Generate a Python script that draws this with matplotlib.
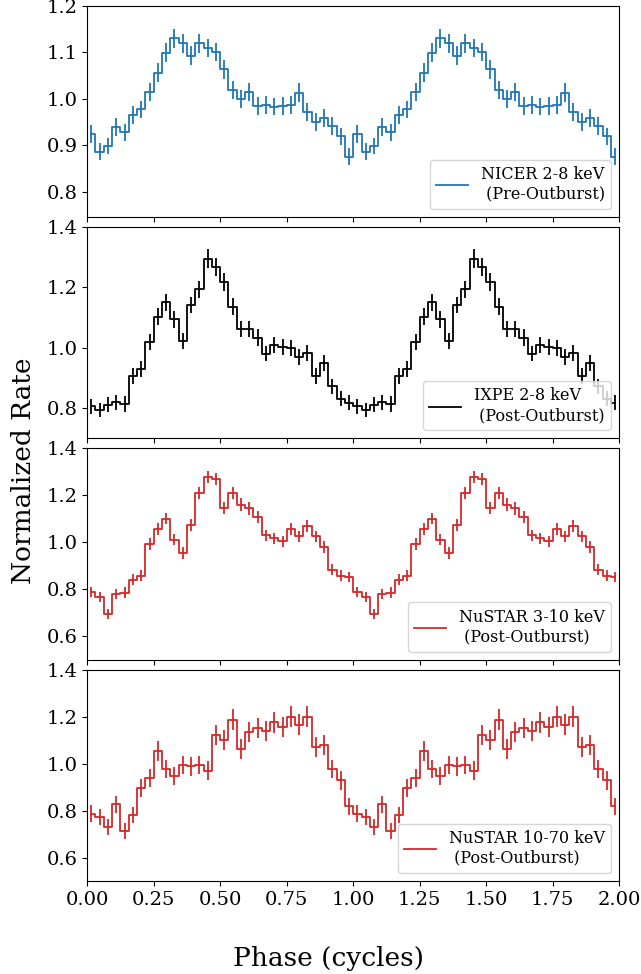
import numpy as np
import matplotlib
matplotlib.use("Agg")
import matplotlib.pyplot as plt

plt.rcParams['font.family'] = 'DejaVu Serif'

# 32 phase bins per cycle, shown twice
n_bins = 32

nicer_rate = [0.924, 0.886, 0.898, 0.939, 0.928, 0.965, 0.977, 1.015,
              1.056, 1.099, 1.130, 1.119, 1.093, 1.119, 1.109, 1.101,
              1.063, 1.019, 1.000, 1.014, 0.984, 0.986, 0.983, 0.984,
              0.986, 1.013, 0.972, 0.950, 0.958, 0.941, 0.919, 0.875]
nicer_err = [0.019, 0.018, 0.018, 0.019, 0.018, 0.019, 0.019, 0.019,
             0.020, 0.020, 0.021, 0.020, 0.020, 0.021, 0.020, 0.020,
             0.020, 0.019, 0.019, 0.019, 0.019, 0.019, 0.019, 0.019,
             0.019, 0.020, 0.019, 0.019, 0.019, 0.019, 0.019, 0.018]

ixpe_rate = [0.807, 0.794, 0.811, 0.820, 0.814, 0.907, 0.929, 1.020,
             1.103, 1.151, 1.094, 1.022, 1.142, 1.194, 1.296, 1.268,
             1.218, 1.137, 1.063, 1.063, 1.034, 0.981, 1.009, 1.003,
             1.000, 0.970, 0.983, 0.907, 0.951, 0.873, 0.831, 0.818]
ixpe_err = [0.025, 0.024, 0.025, 0.025, 0.025, 0.026, 0.026, 0.027,
            0.028, 0.028, 0.028, 0.027, 0.028, 0.029, 0.030, 0.029,
            0.029, 0.028, 0.027, 0.027, 0.027, 0.026, 0.026, 0.026,
            0.026, 0.026, 0.026, 0.026, 0.026, 0.025, 0.025, 0.025]

nustar_lo_rate = [0.788, 0.767, 0.694, 0.781, 0.786, 0.841, 0.858, 0.993,
                  1.058, 1.101, 1.011, 0.954, 1.075, 1.211, 1.278, 1.270,
                  1.147, 1.211, 1.161, 1.144, 1.108, 1.030, 1.017, 1.004,
                  1.058, 1.026, 1.070, 1.026, 0.980, 0.883, 0.858, 0.852]
nustar_lo_err = [0.022, 0.022, 0.021, 0.022, 0.022, 0.023, 0.023, 0.024,
                 0.025, 0.025, 0.024, 0.024, 0.025, 0.026, 0.027, 0.027,
                 0.026, 0.026, 0.026, 0.026, 0.025, 0.024, 0.024, 0.024,
                 0.025, 0.024, 0.025, 0.024, 0.024, 0.023, 0.023, 0.023]

nustar_hi_rate = [0.787, 0.772, 0.729, 0.826, 0.712, 0.780, 0.896, 0.939,
                  1.054, 0.977, 0.946, 0.994, 0.989, 0.994, 0.970, 1.123,
                  1.099, 1.186, 1.062, 1.135, 1.152, 1.138, 1.176, 1.156,
                  1.199, 1.166, 1.199, 1.071, 1.078, 0.977, 0.928, 0.818]
nustar_hi_err = [0.036, 0.035, 0.034, 0.037, 0.034, 0.035, 0.038, 0.039,
                 0.042, 0.040, 0.039, 0.040, 0.040, 0.040, 0.039, 0.043,
                 0.042, 0.045, 0.042, 0.043, 0.044, 0.043, 0.044, 0.044,
                 0.045, 0.044, 0.045, 0.042, 0.042, 0.040, 0.039, 0.036]

labels = ["NICER 2-8 keV\n (Pre-Outburst)",
          "IXPE 2-8 keV\n (Post-Outburst)",
          "NuSTAR 3-10 keV\n (Post-Outburst)",
          "NuSTAR 10-70 keV\n (Post-Outburst)"]
colors = ["#1f77b4", "black", "#d62728", "#d62728"]
ylims = [(0.745, 1.2), (0.7, 1.4), (0.5, 1.4), (0.5, 1.4)]
yticks = [[0.8, 0.9, 1.0, 1.1, 1.2], [0.8, 1.0, 1.2, 1.4],
          [0.6, 0.8, 1.0, 1.2, 1.4], [0.6, 0.8, 1.0, 1.2, 1.4]]
xticks = [0, 0.25, 0.5, 0.75, 1.0, 1.25, 1.5, 1.75, 2.0]

rates = [nicer_rate, ixpe_rate, nustar_lo_rate, nustar_hi_rate]
errs = [nicer_err, ixpe_err, nustar_lo_err, nustar_hi_err]

phase = (np.arange(2 * n_bins) + 0.5) / n_bins

fig, axes = plt.subplots(4, 1, figsize=(6.41, 9.74), dpi=100, sharex=True)
fig.subplots_adjust(left=0.136, right=0.966, top=0.994, bottom=0.0955, hspace=0.047)

for i, ax in enumerate(axes):
    r = np.tile(rates[i], 2)
    e = np.tile(errs[i], 2)
    ax.step(phase, r, where='mid', color=colors[i], lw=1.3, label=labels[i])
    ax.errorbar(phase, r, yerr=e, fmt='none', ecolor=colors[i], elinewidth=1.3)
    ax.set_ylim(*ylims[i])
    ax.set_yticks(yticks[i])
    ax.set_yticklabels(["%.1f" % t for t in yticks[i]])
    ax.tick_params(labelsize=14)
    ax.legend(loc='lower right', fontsize=11.5)

axes[-1].set_xlim(0, 2)
axes[-1].set_xticks(xticks)
axes[-1].set_xticklabels(["%.2f" % t for t in xticks])

fig.text(0.512, 0.016, "Phase (cycles)", ha='center', va='center', fontsize=19)
fig.text(0.036, 0.517, "Normalized Rate", ha='center', va='center', rotation=90, fontsize=19)

fig.savefig("out.png", dpi=100)
